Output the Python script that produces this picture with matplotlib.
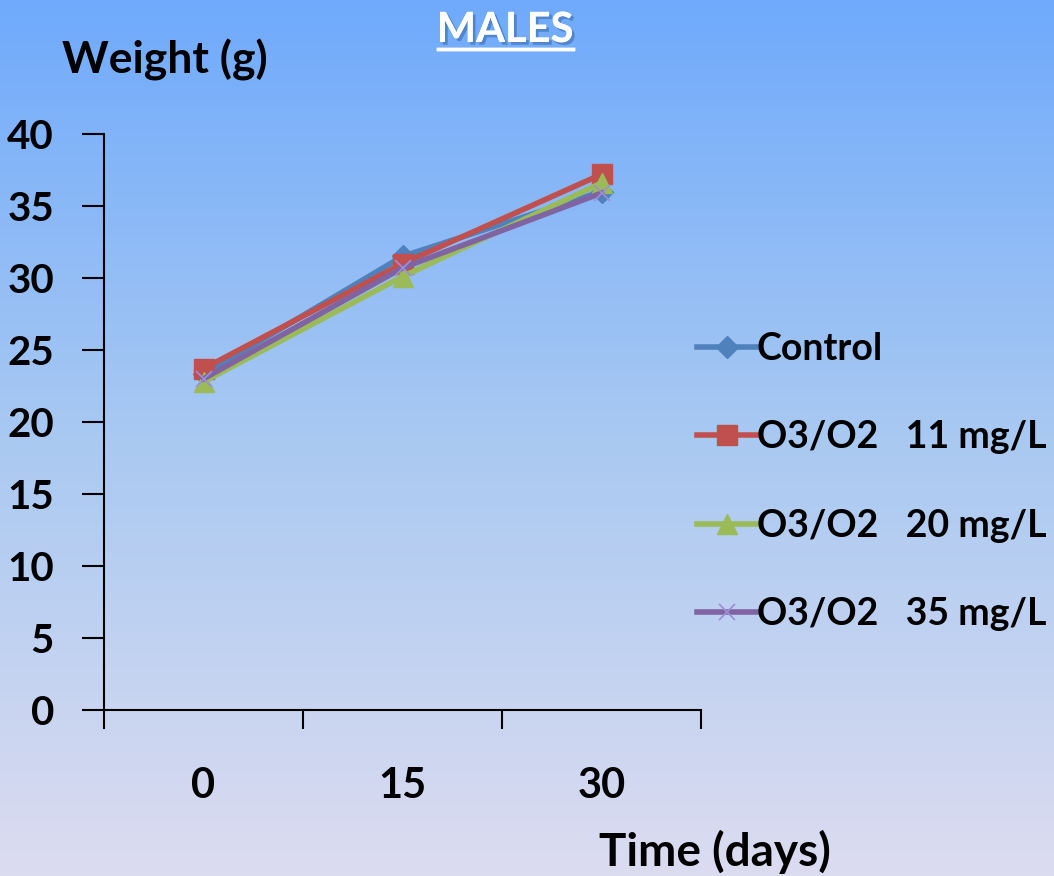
import numpy as np
import matplotlib
matplotlib.use("Agg")
import matplotlib.pyplot as plt
from matplotlib.colors import LinearSegmentedColormap
import matplotlib.patheffects as pe

days = ["0", "15", "30"]
control = [23.3, 31.5, 36.0]
o3_11 = [23.7, 31.0, 37.2]
o3_20 = [22.8, 30.1, 36.6]
o3_35 = [23.0, 30.7, 35.9]
labels = ["Control", "O3/O2   11 mg/L", "O3/O2   20 mg/L", "O3/O2   35 mg/L"]
yticks = [0, 5, 10, 15, 20, 25, 30, 35, 40]

plt.rcParams['font.family'] = ['Lato', 'DejaVu Sans']
plt.rcParams['font.weight'] = 'bold'

W, H = 1054, 876
fig = plt.figure(figsize=(W/100, H/100), dpi=100)

# background gradient
bg = fig.add_axes([0, 0, 1, 1], zorder=-10)
cmap = LinearSegmentedColormap.from_list("bg", ["#6faafc", "#a9c9f2", "#dcdcf0"])
grad = np.linspace(0, 1, 256).reshape(-1, 1)
bg.imshow(grad, aspect='auto', cmap=cmap, extent=[0, 1, 0, 1], origin='upper')
bg.axis('off')

ax = fig.add_axes([104/W, (H-710)/H, (701-104)/W, (710-134)/H])
ax.patch.set_alpha(0)
x = np.arange(len(days))
series = [
    (control, "#4f81bd", "D", 11, None),
    (o3_11, "#c0504d", "s", 15, None),
    (o3_20, "#9bbb59", "^", 15, None),
    (o3_35, "#8064a2", "x", 12, "#9b8fd8"),
]
for (vals, col, mk, ms, mcol), lab in zip(series, labels):
    kw = dict(color=col, marker=mk, markersize=ms, linewidth=4, label=lab)
    if mk == "x":
        kw.update(markeredgecolor=mcol, markeredgewidth=1.2)
    else:
        kw.update(markeredgecolor=col)
    ax.plot(x, vals, **kw)

ax.set_xlim(-0.5, 2.5)
ax.set_ylim(0, 40)
ax.set_yticks(yticks)
ax.set_yticklabels([str(v) for v in yticks], fontsize=29, fontweight='bold')
ax.set_xticks([-0.5, 0.5, 1.5, 2.5])
ax.set_xticklabels([])
ax.tick_params(axis='y', length=16, width=1.5, direction='out', pad=20)
ax.tick_params(axis='x', length=14, width=1.5, direction='out')
for s in ["top", "right"]:
    ax.spines[s].set_visible(False)
for s in ["left", "bottom"]:
    ax.spines[s].set_linewidth(1.5)
for xi, d in zip(x, days):
    ax.text(xi, -5.3, d, ha='center', va='center', fontsize=30, fontweight='bold')

fig.text(165/W, 1-60/H, "Weight (g)", ha='center', va='center', fontsize=32, fontweight='bold')
fig.text(715/W, 1-852/H, "Time (days)", ha='center', va='center', fontsize=33, fontweight='bold')
t = fig.text(505/W, 1-30/H, "MALES", ha='center', va='center', fontsize=30, fontweight='bold',
             color='white', path_effects=[pe.withSimplePatchShadow(offset=(2, -2), shadow_rgbFace='#3060a0', alpha=0.5), pe.Normal()])
fig.add_artist(plt.Line2D([438/W, 573/W], [1-49/H, 1-49/H], color='white', linewidth=2.5,
                          path_effects=[pe.withSimplePatchShadow(offset=(1, -1), alpha=0.4), pe.Normal()]))

leg = fig.legend(loc='upper left', bbox_to_anchor=(697/W, 1-332/H), frameon=False,
                 labelspacing=1.45, handlelength=1.6, handletextpad=0.0,
                 borderpad=0, borderaxespad=0,
                 prop={'weight': 'bold', 'size': 27})

fig.savefig("out.png", dpi=100)
